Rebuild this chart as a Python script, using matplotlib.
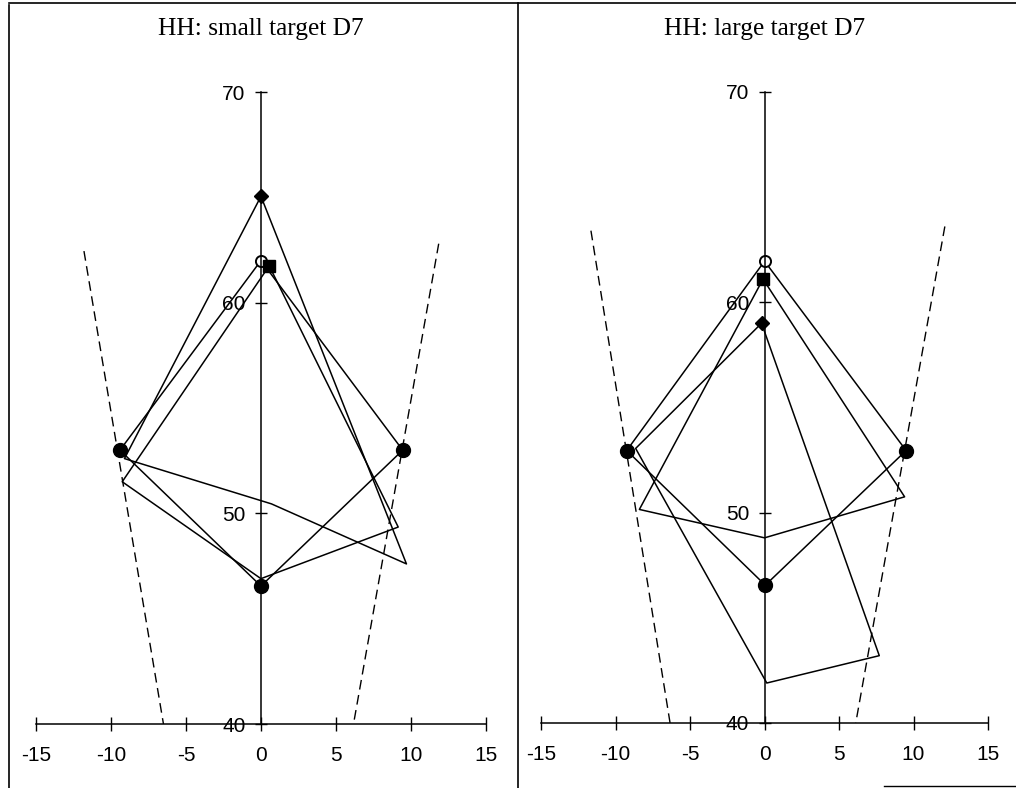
import numpy as np
import matplotlib
matplotlib.use('Agg')
import matplotlib.pyplot as plt
from matplotlib.lines import Line2D

plt.rcParams['font.family'] = ['Liberation Sans', 'DejaVu Sans']
plt.rcParams['axes.unicode_minus'] = False

# ---- data (x = horizontal position, y = distance) ----
titles = ['HH: small target D7', 'HH: large target D7']

# small target panel
small_target_x = [0, -9.4, 0, 9.45]
small_target_y = [62.0, 53.0, 46.55, 53.0]
small_diamond_x = [0, -9.1, 0.7, 9.7]
small_diamond_y = [65.05, 52.6, 50.45, 47.6]
small_square_x = [0.55, -9.25, 0, 9.15]
small_square_y = [61.75, 51.5, 46.9, 49.35]
small_left_bound_x = [-11.8, -6.5]
small_left_bound_y = [62.45, 40]
small_right_bound_x = [11.85, 6.17]
small_right_bound_y = [62.8, 40]

# large target panel
large_target_x = [0, -9.25, 0.05, 9.5]
large_target_y = [61.95, 52.95, 46.55, 52.95]
large_diamond_x = [-0.2, -8.65, 0.15, 7.7]
large_diamond_y = [59.0, 53.05, 41.9, 43.2]
large_square_x = [-0.1, -8.4, 0, 9.4]
large_square_y = [61.1, 50.15, 48.8, 50.75]
large_left_bound_x = [-11.65, -6.34]
large_left_bound_y = [63.4, 40]
large_right_bound_x = [12.1, 6.12]
large_right_bound_y = [63.6, 40]

x_ticks = [-15, -10, -5, 0, 5, 10, 15]
y_ticks = [40, 50, 60, 70]

panels = [
    dict(target=(small_target_x, small_target_y),
         diamond=(small_diamond_x, small_diamond_y),
         square=(small_square_x, small_square_y),
         bounds=[(small_left_bound_x, small_left_bound_y),
                 (small_right_bound_x, small_right_bound_y)]),
    dict(target=(large_target_x, large_target_y),
         diamond=(large_diamond_x, large_diamond_y),
         square=(large_square_x, large_square_y),
         bounds=[(large_left_bound_x, large_left_bound_y),
                 (large_right_bound_x, large_right_bound_y)]),
]

fig = plt.figure(figsize=(10.16, 7.88), dpi=100)
positions = [[0.0354, 0.0812, 0.4429, 0.802],
             [0.5325, 0.0825, 0.4400, 0.801]]


def closed(xs, ys):
    return list(xs) + [xs[0]], list(ys) + [ys[0]]


for pos, title, p in zip(positions, titles, panels):
    ax = fig.add_axes(pos)
    ax.set_xlim(-15, 15)
    ax.set_ylim(40, 70)

    # dashed boundary lines
    for bx, by in p['bounds']:
        ax.plot(bx, by, color='black', lw=1.0, dashes=(7, 4))

    # the three quadrilaterals
    for key in ['target', 'diamond', 'square']:
        cx, cy = closed(*p[key])
        ax.plot(cx, cy, color='black', lw=1.1)

    tx, ty = p['target']
    ax.plot(tx[1:], ty[1:], 'o', color='black', ms=10, ls='none')
    ax.plot(tx[0], ty[0], 'o', mfc='white', mec='black', mew=1.4, ms=8)
    dx, dy = p['diamond']
    ax.plot(dx[0], dy[0], 'D', color='black', ms=7.5)
    sx, sy = p['square']
    ax.plot(sx[0], sy[0], 's', color='black', ms=8)

    # axes crossing at (0, 40)
    ax.spines['top'].set_visible(False)
    ax.spines['right'].set_visible(False)
    ax.spines['left'].set_position(('data', 0))
    ax.spines['bottom'].set_position(('data', 40))
    for s in ['left', 'bottom']:
        ax.spines[s].set_linewidth(1.1)
    ax.set_xticks(x_ticks)
    ax.set_yticks(y_ticks)
    ax.tick_params(axis='x', direction='inout', length=10, width=1.0,
                   pad=11, labelsize=15)
    ax.tick_params(axis='y', direction='inout', length=8, width=1.0,
                   pad=7, labelsize=15)
    ax.patch.set_visible(False)

    ax.annotate(title, xy=(0, 70), xytext=(0, 41), textcoords='offset points',
                ha='center', va='baseline', family='Liberation Serif',
                fontsize=18.3)

# panel frames
fig.add_artist(Line2D([0.0089, 0.0089], [0, 0.994], color='black', lw=1.2))
fig.add_artist(Line2D([0.0089, 1.0], [0.996, 0.996], color='black', lw=1.2))
fig.add_artist(Line2D([0.51, 0.51], [0, 0.996], color='black', lw=1.2))
fig.add_artist(Line2D([0.87, 1.0], [0.003, 0.003], color='black', lw=1.0))

plt.savefig('out.png', dpi=100)
